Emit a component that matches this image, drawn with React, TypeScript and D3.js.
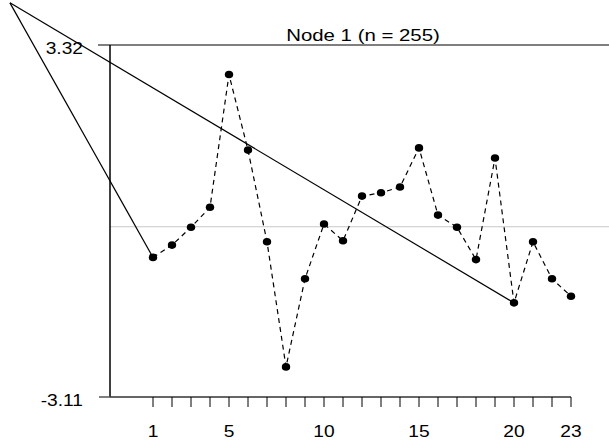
import React from 'react';
import * as d3 from 'd3';

// series
const positions = d3.range(1, 24);
const values = [
  -0.56, -0.335, -0.01, 0.355, 2.78, 1.4, -0.275, -2.56, -0.95, 0.05, -0.256, 0.56,
  0.62, 0.725, 1.44, 0.213, -0.01, -0.6, 1.255, -1.39, -0.275, -0.95, -1.27,
];
const xTickLabels = [1, 5, 10, 15, 20, 23];
const yTickLabels = [-3.11, 3.32];
const title = 'Node 1 (n = 255)';
// the edge from the parent node, in data units, and the two points it touches
const edgeApex = [-6.53, 4.09];
const edgeEnds = [1, 20];

const W = 609;
const H = 444;
const font = 'Arial, "Liberation Sans", sans-serif';

const App = () => {
  const x = d3.scaleLinear().domain([1, 23]).range([153, 571]);
  const y = d3.scaleLinear().domain([-3.11, 3.32]).range([397, 45]);
  const axisX = 110;
  const stretch = 'scale(1.2,1)';

  const line = d3.line<number>()
    .x((_, i) => x(positions[i]))
    .y(d => y(d));

  const [ax, ay] = edgeApex;

  return (
    <svg width={W} height={H} style={{ position: 'absolute', left: 0, top: 0, background: '#fff' }}
      fontFamily={font}>
      {/* zero reference */}
      <line x1={axisX} x2={W} y1={y(0)} y2={y(0)} stroke="#c8c8c8" strokeWidth={1} />
      {/* top border */}
      <line x1={98} x2={W} y1={y(3.32)} y2={y(3.32)} stroke="#555" strokeWidth={1.5} />
      {/* y axis */}
      <line x1={axisX} x2={axisX} y1={y(3.32)} y2={y(-3.11)} stroke="#000" strokeWidth={1.5} />
      <line x1={99} x2={axisX} y1={y(-3.11)} y2={y(-3.11)} stroke="#555" strokeWidth={1.5} />
      {yTickLabels.map(t => (
        <text key={t} transform={`translate(83,${y(t) + 9}) ${stretch}`} textAnchor="end"
          fontSize={16} fill="#000">{t.toFixed(2)}</text>
      ))}
      {/* x axis */}
      <line x1={axisX} x2={x(23)} y1={y(-3.11)} y2={y(-3.11)} stroke="#333" strokeWidth={1.5} />
      {positions.map(p => (
        <line key={p} x1={x(p)} x2={x(p)} y1={y(-3.11)} y2={y(-3.11) + 10} stroke="#000" strokeWidth={1} />
      ))}
      {xTickLabels.map(t => (
        <text key={t} transform={`translate(${x(t)},437) ${stretch}`} textAnchor="middle"
          fontSize={16} fill="#000">{t}</text>
      ))}
      {/* title */}
      <text transform={`translate(363,41) ${stretch}`} textAnchor="middle" fontSize={17} fill="#000">
        {title}
      </text>
      {/* series */}
      <path d={line(values) || ''} fill="none" stroke="#000" strokeWidth={1.2} strokeDasharray="5,4" />
      {values.map((v, i) => (
        <ellipse key={i} cx={x(positions[i])} cy={y(v)} rx={4.2} ry={3.8} fill="#000" />
      ))}
      {/* edge from parent node */}
      {edgeEnds.map(p => (
        <line key={p} x1={x(ax)} y1={y(ay)} x2={x(p)} y2={y(values[p - 1])} stroke="#000" strokeWidth={1.2} />
      ))}
    </svg>
  );
};

export default App;
